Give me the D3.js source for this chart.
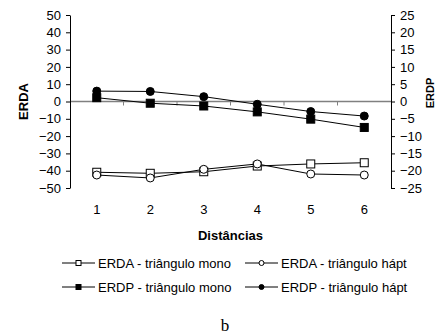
<!DOCTYPE html>
<html>
<head>
<meta charset="utf-8">
<script src="https://cdn.jsdelivr.net/npm/d3@7"></script>
<style>
  body { margin: 0; background: #fff; }
  svg { font-family: "Liberation Sans", Arial, sans-serif; }
</style>
</head>
<body>
<svg id="chart" width="440" height="336"></svg>
<script>
'use strict';

var distancias = ['1', '2', '3', '4', '5', '6'];
var erdaMono = [-40.9, -41.5, -40.6, -37.3, -36.1, -35.4];
var erdaHapt = [-42.5, -44.2, -39.2, -36.1, -41.9, -42.5];
var erdpMono = [1.1, -0.5, -1.3, -3.0, -5.1, -7.5];
var erdpHapt = [3.0, 2.9, 1.4, -0.8, -2.9, -4.2];
var leftTicks = [-50, -40, -30, -20, -10, 0, 10, 20, 30, 40, 50];
var rightTicks = [-25, -20, -15, -10, -5, 0, 5, 10, 15, 20, 25];

var series = [
    { name: 'ERDA - triângulo mono', values: erdaMono, axis: 'left', symbol: 'square', fill: '#fff' },
    { name: 'ERDA - triângulo hápt', values: erdaHapt, axis: 'left', symbol: 'circle', fill: '#fff' },
    { name: 'ERDP - triângulo mono', values: erdpMono, axis: 'right', symbol: 'square', fill: '#000' },
    { name: 'ERDP - triângulo hápt', values: erdpHapt, axis: 'right', symbol: 'circle', fill: '#000' }
];

var svg = d3.select('#chart');
var plotLeft = 70, plotRight = 391, plotTop = 15, plotBottom = 188;

var x = d3.scaleBand().domain(distancias).range([plotLeft, plotRight]);
var yL = d3.scaleLinear().domain([-50, 50]).range([plotBottom, plotTop]);
var yR = d3.scaleLinear().domain([-25, 25]).range([plotBottom, plotTop]);

// zero line with category ticks
svg.append('line')
    .attr('x1', plotLeft).attr('x2', plotRight)
    .attr('y1', yL(0)).attr('y2', yL(0))
    .style('stroke', '#808080').style('stroke-width', 1.5);
svg.selectAll('.xtick')
    .data(distancias.slice(1))
    .enter().append('line')
    .attr('x1', function(d) { return x(d); })
    .attr('x2', function(d) { return x(d); })
    .attr('y1', yL(0)).attr('y2', yL(0) + 4)
    .style('stroke', '#808080');

// category labels
svg.selectAll('.xlabel')
    .data(distancias)
    .enter().append('text')
    .attr('x', function(d) { return x(d) + x.bandwidth() / 2; })
    .attr('y', 214)
    .attr('text-anchor', 'middle')
    .style('font-size', '13px')
    .text(function(d) { return d; });

svg.append('text')
    .attr('x', (plotLeft + plotRight) / 2).attr('y', 240)
    .attr('text-anchor', 'middle')
    .style('font-size', '13px').style('font-weight', 'bold')
    .text('Distâncias');

// y axes
var leftAxis = d3.axisLeft(yL).tickValues(leftTicks).tickSize(4).tickSizeOuter(0);
svg.append('g')
    .attr('transform', 'translate(' + plotLeft + ',0)')
    .call(leftAxis)
    .call(function(g) {
        g.selectAll('text').style('font-size', '13px').style('font-family', 'Liberation Sans, Arial, sans-serif').attr('x', -9);
        g.selectAll('line, path').style('stroke', '#000');
    });

var rightAxis = d3.axisRight(yR).tickValues(rightTicks).tickSize(4).tickSizeOuter(0);
svg.append('g')
    .attr('transform', 'translate(' + plotRight + ',0)')
    .call(rightAxis)
    .call(function(g) {
        g.selectAll('text').style('font-size', '13px').style('font-family', 'Liberation Sans, Arial, sans-serif').attr('x', 9);
        g.selectAll('line, path').style('stroke', '#000');
    });

svg.append('text')
    .attr('transform', 'translate(28,' + yL(0) + ') rotate(-90)')
    .attr('text-anchor', 'middle')
    .style('font-size', '13px').style('font-weight', 'bold')
    .text('ERDA');
svg.append('text')
    .attr('transform', 'translate(434,' + 93 + ') rotate(-90)')
    .attr('text-anchor', 'middle')
    .style('font-size', '11px').style('font-weight', 'bold')
    .text('ERDP');

// series
function drawMarker(g, s, cx, cy, size) {
    if (s.symbol === 'square') {
        g.append('rect')
            .attr('x', cx - size / 2).attr('y', cy - size / 2)
            .attr('width', size).attr('height', size)
            .style('fill', s.fill).style('stroke', '#000').style('stroke-width', 1);
    } else {
        g.append('circle')
            .attr('cx', cx).attr('cy', cy).attr('r', size / 2)
            .style('fill', s.fill).style('stroke', '#000').style('stroke-width', 1);
    }
}

series.forEach(function(s) {
    var y = s.axis === 'left' ? yL : yR;
    var line = d3.line()
        .x(function(d, i) { return x(distancias[i]) + x.bandwidth() / 2; })
        .y(function(d) { return y(d); });
    var g = svg.append('g');
    g.append('path')
        .datum(s.values)
        .attr('d', line)
        .style('fill', 'none').style('stroke', '#000').style('stroke-width', 1);
    s.values.forEach(function(v, i) {
        drawMarker(g, s, x(distancias[i]) + x.bandwidth() / 2, y(v), 8);
    });
});

// legend
var legendPos = [[62, 263], [245, 263], [62, 287], [245, 287]];
series.forEach(function(s, i) {
    var p = legendPos[i];
    var g = svg.append('g').attr('transform', 'translate(' + p[0] + ',' + p[1] + ')');
    g.append('line').attr('x1', 0).attr('x2', 33).attr('y1', 0).attr('y2', 0)
        .style('stroke', '#000').style('stroke-width', 1);
    drawMarker(g, s, 16.5, 0, 5);
    g.append('text')
        .attr('x', 36).attr('y', 4.5)
        .style('font-size', '13px')
        .text(s.name);
});

svg.append('text')
    .attr('x', 225).attr('y', 331)
    .attr('text-anchor', 'middle')
    .style('font-family', 'Liberation Serif, Times New Roman, serif')
    .style('font-size', '17px')
    .text('b');
</script>
</body>
</html>
